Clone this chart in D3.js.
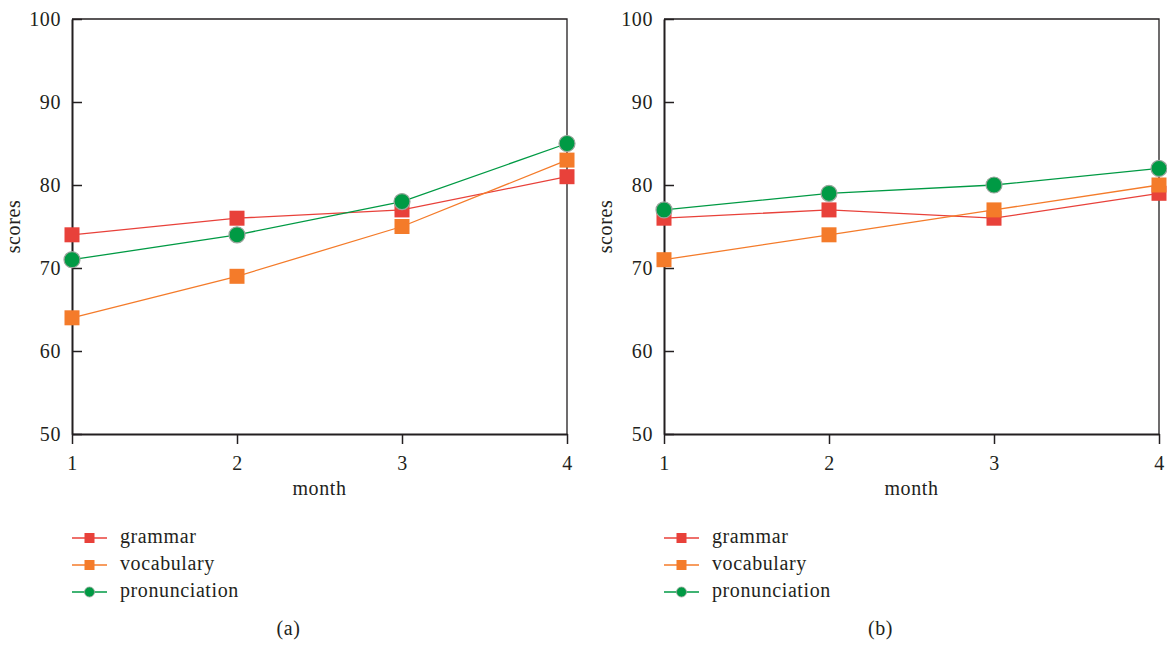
<!DOCTYPE html>
<html>
<head>
<meta charset="utf-8">
<script src="https://cdn.jsdelivr.net/npm/d3@7"></script>
<style>
  body { margin: 0; background: #fff; }
  svg text { font-family: "Liberation Serif", serif; fill: #231f20; letter-spacing: 0.6px; }
</style>
</head>
<body>
<div id="chart"></div>
<script>
// Data
var months = [1, 2, 3, 4];
var seriesNames = ["grammar", "vocabulary", "pronunciation"];
var panelLabels = ["(a)", "(b)"];
var grammarA = [74, 76, 77, 81];
var vocabularyA = [64, 69, 75, 83];
var pronunciationA = [71, 74, 78, 85];
var grammarB = [76, 77, 76, 79];
var vocabularyB = [71, 74, 77, 80];
var pronunciationB = [77, 79, 80, 82];
var yTicks = [50, 60, 70, 80, 90, 100];

// Styles
var colors = { grammar: "#e8413a", vocabulary: "#f47b2a", pronunciation: "#009a44" };
var markers = { grammar: "square", vocabulary: "square", pronunciation: "circle" };
var axisColor = "#231f20";
var fontSize = 20;

var panels = [
	{ x0: 72, label: panelLabels[0], series: [grammarA, vocabularyA, pronunciationA] },
	{ x0: 664, label: panelLabels[1], series: [grammarB, vocabularyB, pronunciationB] }
];

var svg = d3.select("#chart").append("svg")
	.attr("width", 1167)
	.attr("height", 645);

panels.forEach(function(p) {
	var g = svg.append("g");
	var x = d3.scaleLinear().domain([1, 4]).range([p.x0, p.x0 + 495]);
	var y = d3.scaleLinear().domain([50, 100]).range([434, 19]);

	// frame (top and right)
	g.append("path")
		.attr("d", "M" + x(1) + "," + y(100) + "H" + x(4) + "V" + y(50))
		.attr("fill", "none")
		.attr("stroke", axisColor)
		.attr("stroke-width", 1.3);

	// y axis, ticks pointing inward
	var yAxis = g.append("g")
		.attr("transform", "translate(" + x(1) + ",0)")
		.call(d3.axisRight(y).tickValues(yTicks).tickSize(10).tickSizeOuter(0));
	yAxis.selectAll("text")
		.attr("x", -11)
		.attr("dy", "0.34em")
		.attr("text-anchor", "end");

	// x axis
	var xAxis = g.append("g")
		.attr("transform", "translate(0," + y(50) + ")")
		.call(d3.axisBottom(x).tickValues(months).tickFormat(d3.format("d")).tickSize(10).tickSizeOuter(0));
	xAxis.selectAll("text")
		.attr("y", 22);

	[yAxis, xAxis].forEach(function(a) {
		a.attr("font-family", null).attr("font-size", fontSize);
		a.select(".domain").attr("stroke", axisColor).attr("stroke-width", 2);
		a.selectAll(".tick line").attr("stroke", axisColor).attr("stroke-width", 1.5);
		a.selectAll("text").attr("fill", axisColor);
	});

	// axis titles
	g.append("text")
		.attr("x", x(2.5))
		.attr("y", 495)
		.attr("text-anchor", "middle")
		.attr("font-size", fontSize)
		.text("month");
	g.append("text")
		.attr("transform", "translate(" + (p.x0 - 52) + "," + y(75) + ") rotate(-90)")
		.attr("text-anchor", "middle")
		.attr("font-size", fontSize)
		.text("scores");

	// series
	var line = d3.line()
		.x(function(d, i) { return x(months[i]); })
		.y(function(d) { return y(d); });

	p.series.forEach(function(vals, k) {
		var name = seriesNames[k];
		g.append("path")
			.datum(vals)
			.attr("d", line)
			.attr("fill", "none")
			.attr("stroke", colors[name])
			.attr("stroke-width", 1.3);
		if (markers[name] === "square") {
			g.selectAll(".m_" + name)
				.data(vals)
				.enter()
				.append("rect")
				.attr("x", function(d, i) { return x(months[i]) - 7.5; })
				.attr("y", function(d) { return y(d) - 7.5; })
				.attr("width", 15)
				.attr("height", 15)
				.attr("fill", colors[name]);
		} else {
			g.selectAll(".m_" + name)
				.data(vals)
				.enter()
				.append("circle")
				.attr("cx", function(d, i) { return x(months[i]); })
				.attr("cy", function(d) { return y(d); })
				.attr("r", 8)
				.attr("fill", colors[name])
				.attr("stroke", "#9aa59c")
				.attr("stroke-width", 1.2);
		}
	});

	// legend
	seriesNames.forEach(function(name, k) {
		var ly = 538 + k * 27;
		var lg = g.append("g");
		lg.append("line")
			.attr("x1", p.x0)
			.attr("x2", p.x0 + 35)
			.attr("y1", ly)
			.attr("y2", ly)
			.attr("stroke", colors[name])
			.attr("stroke-width", 1.3);
		if (markers[name] === "square") {
			lg.append("rect")
				.attr("x", p.x0 + 17.5 - 5)
				.attr("y", ly - 5)
				.attr("width", 10)
				.attr("height", 10)
				.attr("fill", colors[name]);
		} else {
			lg.append("circle")
				.attr("cx", p.x0 + 17.5)
				.attr("cy", ly)
				.attr("r", 5)
				.attr("fill", colors[name])
				.attr("stroke", "#9aa59c")
				.attr("stroke-width", 0.8);
		}
		lg.append("text")
			.attr("x", p.x0 + 48)
			.attr("y", ly + 5)
			.attr("font-size", fontSize)
			.text(name);
	});

	// panel label
	g.append("text")
		.attr("x", x(2.5) - 31)
		.attr("y", 635)
		.attr("text-anchor", "middle")
		.attr("font-size", fontSize)
		.text(p.label);
});
</script>
</body>
</html>
